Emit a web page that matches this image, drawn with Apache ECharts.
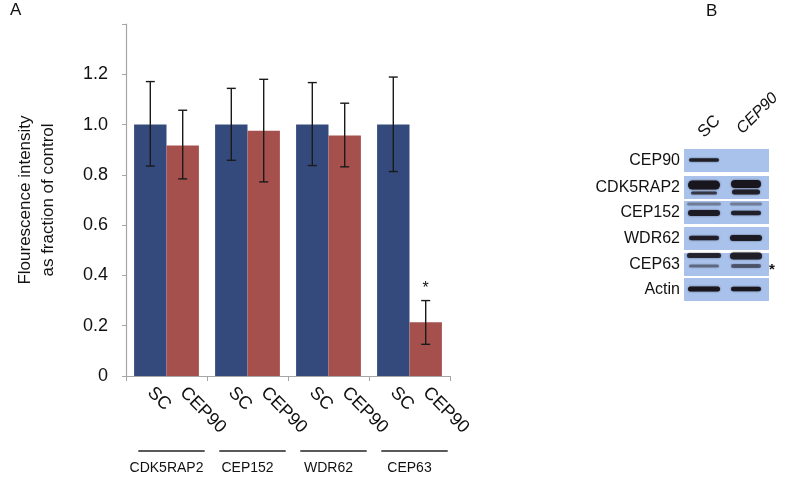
<!DOCTYPE html>
<html>
<head>
<meta charset="utf-8">
<script src="https://cdn.jsdelivr.net/npm/echarts@6/dist/echarts.min.js"></script>
<style>html,body{margin:0;padding:0;background:#fff}#c{width:785px;height:478px}</style>
</head>
<body>
<div id="c"></div>
<script>
// ---- data ----
var groups = ['CDK5RAP2', 'CEP152', 'WDR62', 'CEP63'];
var scValues = [1.0, 1.0, 1.0, 1.0];
var cep90Values = [0.917, 0.975, 0.957, 0.214];
var scErrLow = [0.835, 0.858, 0.837, 0.813];
var scErrHigh = [1.171, 1.144, 1.167, 1.189];
var cepErrLow = [0.784, 0.772, 0.832, 0.126];
var cepErrHigh = [1.057, 1.180, 1.085, 0.300];
var significant = [false, false, false, true];
var blotRows = ['CEP90', 'CDK5RAP2', 'CEP152', 'WDR62', 'CEP63', 'Actin'];
var blotLanes = ['SC', 'CEP90'];

var FONT = '"Liberation Sans", Arial, sans-serif';
var BLUE = '#344a7c', RED = '#a6504d';

var errData = [];
for (var i = 0; i < groups.length; i++) {
  errData.push([i, scErrLow[i], scErrHigh[i], 0, 0]);
  errData.push([i, cepErrLow[i], cepErrHigh[i], 1, significant[i] ? 1 : 0]);
}
var lineData = groups.map(function (g, i) { return [i, 0]; });

function renderErr(params, api) {
  var cat = api.value(0), lo = api.value(1), hi = api.value(2), s = api.value(3), sig = api.value(4);
  var cw = api.size([1, 0])[0];
  var off = (s === 0 ? -1 : 1) * cw * 0.2;
  var p1 = api.coord([cat, hi]), p0 = api.coord([cat, lo]);
  var x = p1[0] + off, cap = 4.5;
  var st = { stroke: '#1a1a1a', lineWidth: 1.4 };
  var ch = [
    { type: 'line', shape: { x1: x, y1: p1[1], x2: x, y2: p0[1] }, style: st },
    { type: 'line', shape: { x1: x - cap, y1: p1[1], x2: x + cap, y2: p1[1] }, style: st },
    { type: 'line', shape: { x1: x - cap, y1: p0[1], x2: x + cap, y2: p0[1] }, style: st }
  ];
  if (sig) {
    ch.push({ type: 'text', style: { text: '*', x: x, y: p1[1] - 4, align: 'center', verticalAlign: 'bottom', font: '16px ' + FONT, fill: '#111' } });
  }
  return { type: 'group', children: ch };
}
function renderGroupLine(params, api) {
  var cat = api.value(0);
  var cw = api.size([1, 0])[0];
  var p = api.coord([cat, 0]);
  var cx = p[0] + 5, y = p[1] + 75, hw = cw * 0.41;
  return { type: 'line', shape: { x1: cx - hw, y1: y, x2: cx + hw, y2: y }, style: { stroke: '#222', lineWidth: 1.5 } };
}

var barLabel = function () {
  return {
    show: true, position: 'bottom', distance: 14, rotate: -45, align: 'left', verticalAlign: 'middle',
    formatter: '{a}', fontSize: 18, fontFamily: FONT, color: '#111'
  };
};

// ---- blot drawing ----
var blotX = 684, blotW = 85;
var rowTops = [149, 176, 201, 227, 253, 278];
var rowH = 23;
var laneX = [704, 746];
var bands = [
  [[{ dy: 11, w: 30, h: 3.5, o: 0.9 }], []],
  [[{ dy: 9, w: 32, h: 9, o: 1 }, { dy: 17, w: 26, h: 3, o: 0.7 }], [{ dy: 8, w: 30, h: 8, o: 1 }, { dy: 16, w: 28, h: 5, o: 0.9 }]],
  [[{ dy: 3, w: 34, h: 3, o: 0.3 }, { dy: 12, w: 32, h: 6, o: 0.95 }], [{ dy: 3, w: 32, h: 3, o: 0.3 }, { dy: 12, w: 30, h: 4.5, o: 0.9 }]],
  [[{ dy: 11, w: 30, h: 4.5, o: 0.9 }], [{ dy: 11, w: 32, h: 6, o: 0.95 }]],
  [[{ dy: 2.5, w: 34, h: 5, o: 0.85 }, { dy: 13, w: 30, h: 3, o: 0.4 }], [{ dy: 3, w: 32, h: 7, o: 0.9 }, { dy: 13, w: 30, h: 4, o: 0.5 }]],
  [[{ dy: 11, w: 32, h: 5, o: 1 }], [{ dy: 11, w: 30, h: 4.5, o: 1 }]]
];
var graphics = [
  { type: 'text', left: 10, top: 2, style: { text: 'A', font: '17px ' + FONT, fill: '#111' } },
  { type: 'text', left: 706, top: 3, style: { text: 'B', font: '17px ' + FONT, fill: '#111' } }
];
blotRows.forEach(function (name, r) {
  graphics.push({ type: 'rect', shape: { x: blotX, y: rowTops[r], width: blotW, height: rowH }, style: { fill: '#a9c2ec' } });
  graphics.push({ type: 'text', style: { text: name, x: 680, y: rowTops[r] + rowH / 2, align: 'right', verticalAlign: 'middle', font: '16px ' + FONT, fill: '#111' } });
  bands[r].forEach(function (lane, l) {
    lane.forEach(function (b) {
      graphics.push({ type: 'rect', shape: { x: laneX[l] - b.w / 2, y: rowTops[r] + b.dy - b.h / 2, width: b.w, height: b.h, r: b.h / 2 },
        style: { fill: 'rgba(25,22,30,' + b.o + ')', shadowBlur: 2, shadowColor: 'rgba(20,20,30,0.6)' } });
    });
  });
});
graphics.push({ type: 'text', style: { text: '*', x: 772, y: 270, align: 'center', verticalAlign: 'middle', font: 'bold 15px ' + FONT, fill: '#111' } });
graphics.push({ type: 'text', x: 707, y: 141, rotation: Math.PI / 4, style: { text: blotLanes[0], x: 0, y: 0, align: 'left', verticalAlign: 'bottom', font: '17px ' + FONT, fill: '#111' } });
graphics.push({ type: 'text', x: 745, y: 137, rotation: Math.PI / 4, style: { text: blotLanes[1], x: 0, y: 0, align: 'left', verticalAlign: 'bottom', font: 'italic 16px ' + FONT, fill: '#111' } });

var chart = echarts.init(document.getElementById('c'));
chart.setOption({
  animation: false,
  grid: { left: 126, right: 335, top: 24, bottom: 102, containLabel: false },
  xAxis: {
    type: 'category', data: groups,
    axisLine: { lineStyle: { color: '#a6a6a6', width: 1.2 } },
    axisTick: { show: true, length: 5, lineStyle: { color: '#a6a6a6' } },
    axisLabel: { interval: 0, margin: 85, fontSize: 14, fontFamily: FONT, color: '#111' }
  },
  yAxis: {
    type: 'value', min: 0, max: 1.4, interval: 0.2,
    name: 'Flourescence intensity\nas fraction of control', nameLocation: 'middle', nameGap: 66,
    nameTextStyle: { fontSize: 17, fontFamily: FONT, color: '#111', lineHeight: 23 },
    axisLine: { show: true, lineStyle: { color: '#a6a6a6', width: 1.2 } },
    axisTick: { show: true, length: 4, lineStyle: { color: '#a6a6a6' } },
    splitLine: { show: false },
    axisLabel: {
      margin: 18, fontSize: 18, fontFamily: FONT, color: '#111',
      formatter: function (v) { if (v > 1.3) return ''; return v === 0 ? '0' : v.toFixed(1); }
    }
  },
  series: [
    { name: 'SC', type: 'bar', data: scValues, barGap: '0%', barCategoryGap: '20%', itemStyle: { color: BLUE }, label: barLabel(), z: 2 },
    { name: 'CEP90', type: 'bar', data: cep90Values, barGap: '0%', barCategoryGap: '20%', itemStyle: { color: RED }, label: barLabel(), z: 2 },
    { type: 'custom', renderItem: renderErr, data: errData, z: 5, clip: false },
    { type: 'custom', renderItem: renderGroupLine, data: lineData, z: 5, clip: false }
  ],
  graphic: graphics
});
</script>
</body>
</html>
